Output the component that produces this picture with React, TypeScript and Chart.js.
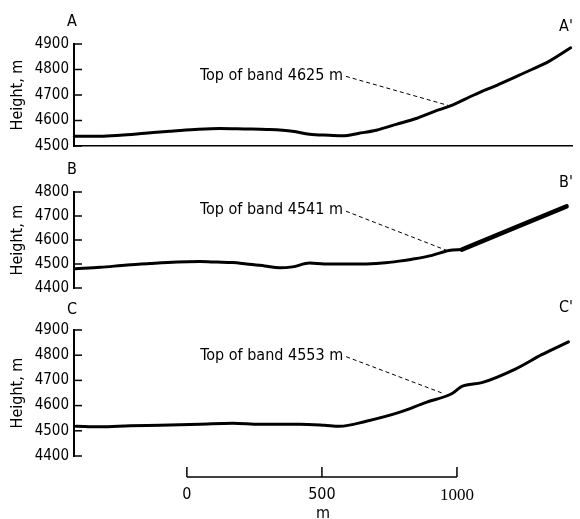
import React, { useEffect, useRef } from "react";
import { Chart, registerables } from "chart.js";

Chart.register(...registerables);

const FONT = "'DejaVu Sans Condensed', 'DejaVu Sans', sans-serif";

// ---- Data (distance along profile in m, height in m) ----
const distA = [-417, -321, -247, -155, -63, 30, 122, 214, 295, 391, 454, 528, 576, 638, 701, 775, 849, 915, 978, 1063, 1155, 1229, 1277, 1339, 1421];
const heightA = [4538, 4538, 4542, 4550, 4558, 4565, 4569, 4567, 4565, 4558, 4546, 4542, 4540, 4550, 4562, 4585, 4608, 4635, 4658, 4700, 4742, 4777, 4800, 4831, 4885];

const distB = [-413, -321, -221, -137, -37, 48, 111, 170, 221, 288, 343, 391, 454, 509, 576, 649, 723, 786, 834, 908, 970, 1018];
const heightB = [4480, 4486, 4496, 4502, 4508, 4510, 4508, 4506, 4500, 4492, 4484, 4488, 4504, 4500, 4500, 4500, 4504, 4512, 4520, 4536, 4556, 4560];
const distBThick = [1018, 1406];
const heightBThick = [4560, 4740];

const distC = [-410, -321, -210, -100, 48, 170, 269, 417, 509, 565, 664, 786, 886, 982, 1018, 1092, 1218, 1314, 1413];
const heightC = [4518, 4516, 4520, 4522, 4526, 4530, 4526, 4526, 4522, 4518, 4538, 4573, 4613, 4648, 4676, 4691, 4746, 4802, 4853];

const profileLetters = [["A", "A'"], ["B", "B'"], ["C", "C'"]];
const bandLabels = ["Top of band 4625 m", "Top of band 4541 m", "Top of band 4553 m"];
// leader line start (label anchor) and end (point on profile), [distance, height]
const labelAnchors = [[589, 4773], [589, 4720], [590, 4794]];
const bandPoints = [[978, 4656], [963, 4556], [952, 4647]];

const yRanges = [[4500, 4900], [4400, 4800], [4400, 4900]];
const scaleTicks = [0, 500, 1000];

const X_MIN = -418;
const X_MAX = 1426;

const pts = (xs: number[], ys: number[]) => xs.map((x, i) => ({ x, y: ys[i] }));

type PanelCfg = {
  top: number;
  height: number;
  padTop: number;
  padBottom: number;
  idx: number;
  showX: boolean;
  letterDy: [number, number];
  datasets: any[];
};

function lineDs(data: any[], width: number) {
  return {
    data,
    borderColor: "#000",
    borderWidth: width,
    pointRadius: 0,
    cubicInterpolationMode: "monotone",
    borderCapStyle: "round",
    borderJoinStyle: "round",
    clip: false,
  };
}

const panels: PanelCfg[] = [
  {
    top: 0, height: 160, padTop: 44, padBottom: 12, idx: 0, showX: true, letterDy: [-22, -17],
    datasets: [lineDs(pts(distA, heightA), 3)],
  },
  {
    top: 160, height: 142, padTop: 32, padBottom: 10, idx: 1, showX: false, letterDy: [-22, -9],
    datasets: [lineDs(pts(distB, heightB), 3), lineDs(pts(distBThick, heightBThick), 4.5)],
  },
  {
    top: 300, height: 170, padTop: 30, padBottom: 13, idx: 2, showX: false, letterDy: [-20, -22],
    datasets: [lineDs(pts(distC, heightC), 3)],
  },
];

function panelPlugin(p: PanelCfg) {
  return {
    id: "panelDeco" + p.idx,
    afterDraw(chart: any) {
      const { ctx, chartArea: ca, scales } = chart;
      const xs = scales.x;
      const ys = scales.y;
      ctx.save();
      ctx.strokeStyle = "#000";
      ctx.lineWidth = 1.5;
      ys.ticks.forEach((t: any) => {
        const py = ys.getPixelForValue(t.value);
        ctx.beginPath();
        ctx.moveTo(ca.left, py);
        ctx.lineTo(ca.left + 8, py);
        ctx.stroke();
      });
      ctx.fillStyle = "#000";
      ctx.font = `16px ${FONT}`;
      ctx.textAlign = "center";
      ctx.textBaseline = "middle";
      const [l1, l2] = profileLetters[p.idx];
      ctx.fillText(l1, ca.left - 2, ca.top + p.letterDy[0]);
      ctx.fillText(l2, ca.right - 6, ca.top + p.letterDy[1]);

      const [lx, ly] = labelAnchors[p.idx];
      const [bx, by] = bandPoints[p.idx];
      const ax = xs.getPixelForValue(lx);
      const ay = ys.getPixelForValue(ly);
      const tx = xs.getPixelForValue(bx);
      const ty = ys.getPixelForValue(by);
      ctx.textAlign = "right";
      ctx.fillText(bandLabels[p.idx], ax - 3, ay - 1);
      ctx.setLineDash([4, 3]);
      ctx.lineWidth = 1;
      ctx.beginPath();
      ctx.moveTo(ax, ay);
      ctx.lineTo(tx, ty);
      ctx.stroke();
      ctx.restore();
    },
  };
}

const scaleBarPlugin = {
  id: "scaleBar",
  afterDraw(chart: any) {
    const { ctx, chartArea: ca, scales } = chart;
    const xs = scales.x;
    const y = ca.bottom;
    ctx.save();
    ctx.strokeStyle = "#000";
    ctx.lineWidth = 1.5;
    ctx.beginPath();
    ctx.moveTo(xs.getPixelForValue(scaleTicks[0]), y);
    ctx.lineTo(xs.getPixelForValue(scaleTicks[scaleTicks.length - 1]), y);
    ctx.stroke();
    scaleTicks.forEach((v) => {
      const px = xs.getPixelForValue(v);
      ctx.beginPath();
      ctx.moveTo(px, y);
      ctx.lineTo(px, y - 10);
      ctx.stroke();
    });
    ctx.restore();
  },
};

const plain = (v: any) => String(v);

export default function App() {
  const refs = useRef<(HTMLCanvasElement | null)[]>([]);

  useEffect(() => {
    Chart.defaults.font.family = FONT;
    Chart.defaults.color = "#000";
    const charts: Chart[] = [];

    panels.forEach((p, i) => {
      const cv = refs.current[i];
      if (!cv) return;
      const [ymin, ymax] = yRanges[p.idx];
      charts.push(
        new Chart(cv, {
          type: "line",
          data: { datasets: p.datasets },
          plugins: [panelPlugin(p)],
          options: {
            animation: false,
            responsive: false,
            maintainAspectRatio: false,
            layout: { padding: { left: 4, right: 8, top: p.padTop, bottom: p.padBottom } },
            plugins: { legend: { display: false }, tooltip: { enabled: false } },
            scales: {
              x: {
                type: "linear",
                min: X_MIN,
                max: X_MAX,
                display: p.showX,
                ticks: { display: false },
                grid: { display: false, drawTicks: false },
                border: { display: true, width: 1.5, color: "#000" },
                afterFit: (s: any) => { s.height = 0; },
              },
              y: {
                type: "linear",
                min: ymin,
                max: ymax,
                ticks: { stepSize: 100, color: "#000", font: { size: 15 }, padding: 5, callback: plain },
                grid: { display: false, drawTicks: false },
                border: { display: true, width: 2, color: "#000" },
                title: { display: true, text: "Height, m", color: "#000", font: { size: 16 } },
                afterFit: (s: any) => { s.width = 70; },
              },
            },
          } as any,
        })
      );
    });

    const sc = refs.current[3];
    if (sc) {
      charts.push(
        new Chart(sc, {
          type: "line",
          data: { datasets: [] },
          plugins: [scaleBarPlugin],
          options: {
            animation: false,
            responsive: false,
            maintainAspectRatio: false,
            layout: { padding: { left: 74, right: 8, top: 20, bottom: 0 } },
            plugins: { legend: { display: false }, tooltip: { enabled: false } },
            scales: {
              x: {
                type: "linear",
                min: X_MIN,
                max: X_MAX,
                afterBuildTicks: (s: any) => { s.ticks = scaleTicks.map((v) => ({ value: v })); },
                ticks: {
                  color: "#000",
                  padding: 8,
                  maxRotation: 0,
                  autoSkip: false,
                  callback: plain,
                  font: (c: any) =>
                    c.tick && c.tick.value === 1000
                      ? { family: "'Liberation Serif', serif", size: 17 }
                      : { size: 16 },
                },
                grid: { display: false, drawTicks: false },
                border: { display: false },
                title: { display: true, text: "m", color: "#000", font: { size: 16 }, padding: 0 },
                afterFit: (s: any) => { s.height = 46; },
              },
              y: { display: false, min: 0, max: 1 },
            },
          } as any,
        })
      );
    }

    return () => charts.forEach((c) => c.destroy());
  }, []);

  const canvasSpecs = [
    ...panels.map((p) => ({ top: p.top, height: p.height })),
    { top: 440, height: 83 },
  ];

  return (
    <div style={{ position: "fixed", left: 0, top: 0, width: 580, height: 519, background: "#fff", overflow: "hidden" }}>
      {canvasSpecs.map((c, i) => (
        <canvas
          key={i}
          ref={(el) => { refs.current[i] = el; }}
          width={580}
          height={c.height}
          style={{ position: "absolute", left: 0, top: c.top, width: 580, height: c.height }}
        />
      ))}
    </div>
  );
}
